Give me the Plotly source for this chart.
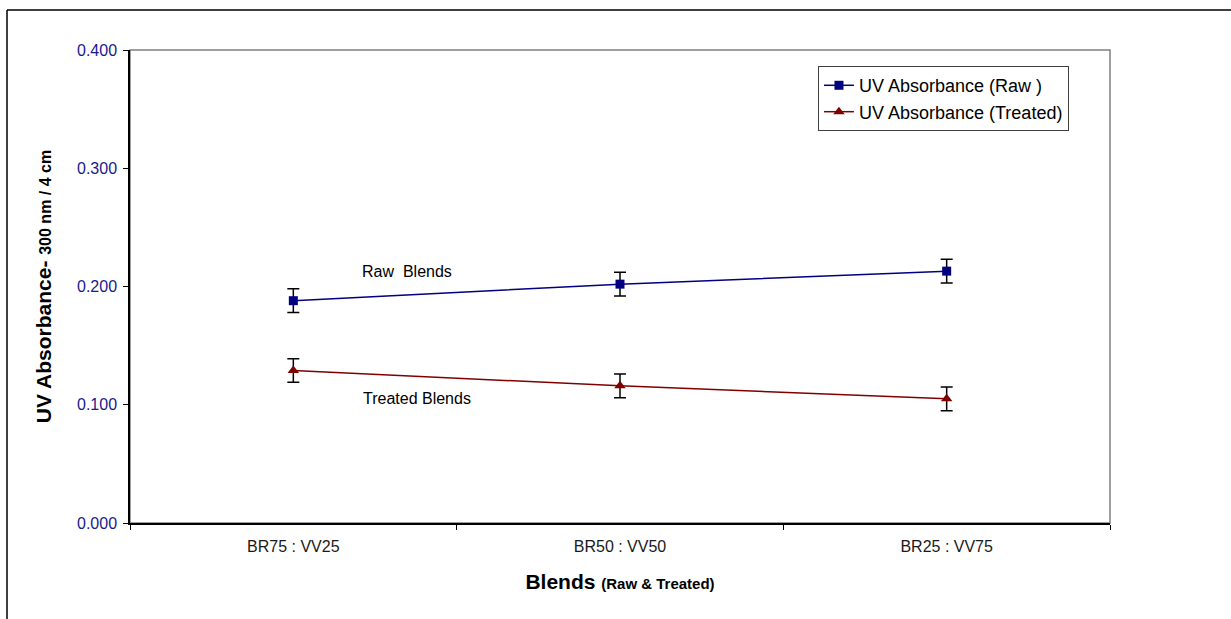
import plotly.graph_objects as go

categories = ["BR75 : VV25", "BR50 : VV50", "BR25 : VV75"]
raw_values = [0.188, 0.202, 0.213]
treated_values = [0.129, 0.116, 0.105]
raw_err = [0.010, 0.010, 0.010]
treated_err = [0.010, 0.010, 0.010]
y_ticks = [0.0, 0.1, 0.2, 0.3, 0.4]

fig = go.Figure()
fig.add_trace(go.Scatter(
    x=categories, y=raw_values, mode="lines+markers",
    name="UV Absorbance (Raw )",
    line=dict(color="#000080", width=1.5),
    marker=dict(symbol="square", size=9, color="#000080"),
    error_y=dict(type="data", array=raw_err, color="black", thickness=1.5, width=6),
))
fig.add_trace(go.Scatter(
    x=categories, y=treated_values, mode="lines+markers",
    name="UV Absorbance (Treated)",
    line=dict(color="#800000", width=1.5),
    marker=dict(symbol="triangle-up", size=10, color="#800000"),
    error_y=dict(type="data", array=treated_err, color="black", thickness=1.5, width=6),
))

fig.add_annotation(x=0.347, y=0.2123, xref="x", yref="y", text="Raw  Blends",
                   showarrow=False, font=dict(family="Arial", size=16, color="black"))
fig.add_annotation(x=0.378, y=0.1057, xref="x", yref="y", text="Treated Blends",
                   showarrow=False, font=dict(family="Arial", size=16, color="black"))

# outer frame (left and top edges visible in the picture)
fig.add_shape(type="line", xref="paper", yref="paper",
              x0=-0.1255, x1=-0.1255, y0=-0.3, y1=1.0846,
              line=dict(color="black", width=1.5), layer="below")
fig.add_shape(type="line", xref="paper", yref="paper",
              x0=-0.1255, x1=1.2, y0=1.0846, y1=1.0846,
              line=dict(color="black", width=1.5), layer="below")
# plot area border (gray top/right)
fig.add_shape(type="rect", xref="paper", yref="paper", x0=0, x1=1, y0=0, y1=1,
              line=dict(color="#808080", width=1.5), layer="below")

fig.update_layout(
    width=1231, height=619,
    margin=dict(l=130, r=121, t=50, b=96),
    paper_bgcolor="white", plot_bgcolor="white",
    font=dict(family="Arial", color="black"),
    showlegend=True,
    legend=dict(x=0.702, y=0.966, xanchor="left", yanchor="top",
                bordercolor="#404040", borderwidth=1, bgcolor="white",
                font=dict(family="Arial", size=18, color="black"),
                tracegroupgap=0),
    xaxis=dict(
        type="category", range=[-0.5, 2.5],
        showline=True, linecolor="black", linewidth=1.5,
        ticks="outside", ticklen=5, tickcolor="black", tickson="boundaries",
        tickfont=dict(family="Arial", size=16, color="#1a1a1a"),
        ticklabelstandoff=8,
        showgrid=False, zeroline=False,
        title=dict(text="<b>Blends <span style='font-size:15px'>(Raw &amp; Treated)</span></b>",
                   font=dict(family="Arial", size=21, color="black"), standoff=20),
    ),
    yaxis=dict(
        range=[0, 0.4], tickvals=y_ticks, tickformat=".3f",
        showline=True, linecolor="black", linewidth=1.5,
        ticks="outside", ticklen=5, tickcolor="black",
        tickfont=dict(family="Arial", size=16, color="#1a1a8c"),
        ticklabelstandoff=3,
        showgrid=False, zeroline=False,
        title=dict(text="<b>UV Absorbance- <span style='font-size:16px'>300 nm / 4 cm</span></b>",
                   font=dict(family="Arial", size=21, color="black"), standoff=20),
    ),
)

fig.write_html("out.html")
